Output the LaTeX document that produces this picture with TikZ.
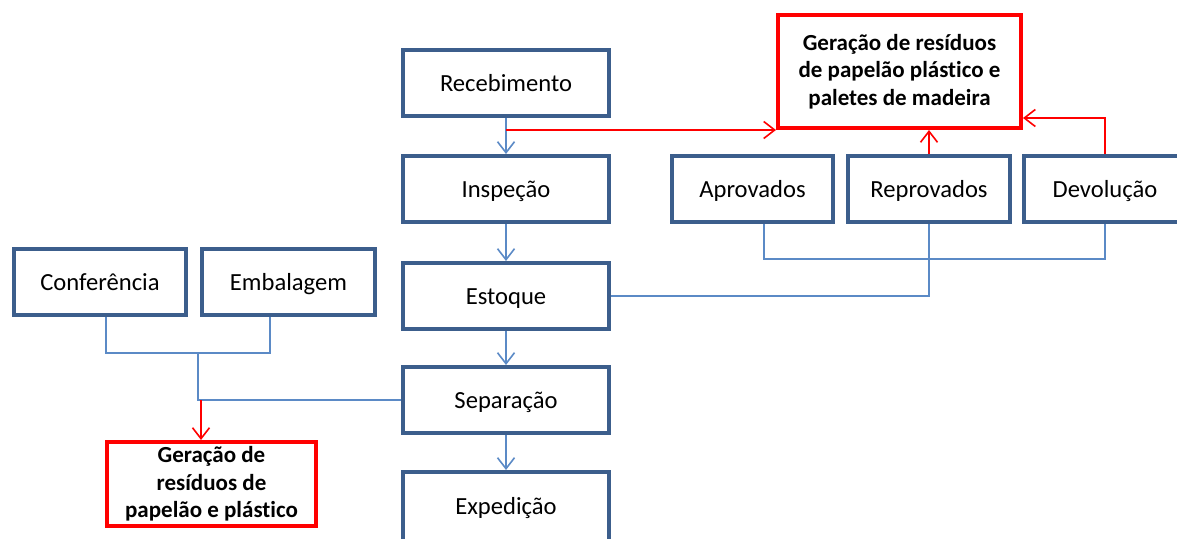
\documentclass[tikz,border=0pt]{standalone}
\usepackage{fontspec}
\setmainfont{Carlito}[Ligatures=NoCommon]
\usetikzlibrary{arrows.meta,calc}
\definecolor{boxblue}{HTML}{3C5E8C}
\definecolor{lineblue}{HTML}{5B8AC6}
\definecolor{myred}{HTML}{FF0000}
\tikzset{
  x=1pt, y=-1pt,
  bbox/.style={draw=boxblue, line width=4pt, fill=white, inner sep=0pt, text height=19pt, text depth=3pt, font=\fontsize{24.6}{28}\selectfont},
  rbox/.style={draw=myred, line width=4pt, fill=white, inner sep=0pt, align=center, font=\fontsize{23}{27.5}\selectfont\bfseries},
  bline/.style={draw=lineblue, line width=1.6pt},
  rline/.style={draw=myred, line width=1.6pt},
  arr/.style={-{Straight Barb[length=11pt,width=17pt,line width=1.6pt]}}
}
\begin{document}
\begin{tikzpicture}
\useasboundingbox (0,0) rectangle (1177,538);
% main column
\node[bbox, minimum width=206pt, minimum height=66pt] (rec) at (506,83) {Recebimento};
\node[bbox, minimum width=206pt, minimum height=66pt] (insp) at (506,189) {Inspeção};
\node[bbox, minimum width=206pt, minimum height=66pt] (est) at (506,296) {Estoque};
\node[bbox, minimum width=206pt, minimum height=66pt] (sep) at (506,400) {Separação};
\node[bbox, minimum width=206pt, minimum height=86pt] (exp) at (506,515) {\raisebox{9pt}{Expedição}};
% right row
\node[bbox, minimum width=161pt, minimum height=66pt] (apr) at (752.5,189) {Aprovados};
\node[bbox, minimum width=162pt, minimum height=66pt] (rep) at (929,189) {Reprovados};
\node[bbox, minimum width=162pt, minimum height=66pt] (dev) at (1105,189) {Devolução};
% left row
\node[bbox, minimum width=172pt, minimum height=66pt] (conf) at (100,282) {Conferência};
\node[bbox, minimum width=173pt, minimum height=66pt] (emb) at (288.5,282) {Embalagem};
% red boxes
\node[rbox, minimum width=243pt, minimum height=113pt] (red1) at (899.5,71.5) {\raisebox{-2pt}{\parbox{240pt}{\centering Geração de resíduos\\de papelão plástico e\\paletes de madeira}}};
\node[rbox, minimum width=209pt, minimum height=84pt] (red2) at (211.5,484) {Geração de\\resíduos de\\papelão e plástico};
% main flow
\draw[bline,arr] (rec.south) -- (insp.north);
\draw[bline,arr] (insp.south) -- (est.north);
\draw[bline,arr] (est.south) -- (sep.north);
\draw[bline,arr] (sep.south) -- (exp.north);
% red arrows to top box
\draw[rline,arr] (rec.south |- red1.south) -- (red1.south west);
\draw[rline,arr] (rep.north) -- (rep.north |- red1.south);
\coordinate (yD) at (0,118);
\draw[rline,arr] (dev.north) |- (yD -| red1.east);
% right bracket
\coordinate (ax) at (764,259);
\draw[bline] (ax |- apr.south) -- (ax) -- (ax -| dev.south) -- (dev.south);
\draw[bline] (rep.south) |- (est.east);
% left bracket
\coordinate (cx) at (106,353);
\coordinate (ex) at (270,353);
\coordinate (mx) at (198,353);
\draw[bline] (cx |- conf.south) -- (cx) -- (ex) -- (ex |- emb.south);
\draw[bline] (mx) |- (sep.west);
\coordinate (rx) at (201,400);
\draw[rline,arr] (rx) -- (rx |- red2.north);
\end{tikzpicture}
\end{document}
